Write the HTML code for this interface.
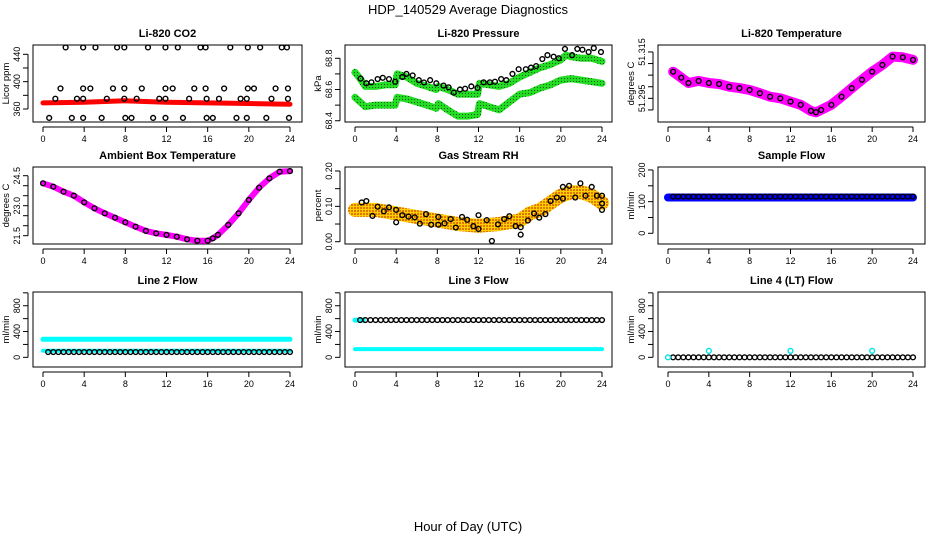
<!DOCTYPE html>
<html><head><meta charset="utf-8">
<style>
body{margin:0;background:#fff;}
svg{display:block;font-family:"Liberation Sans",Arial,sans-serif;}
.t{font-size:11px;font-weight:bold;text-anchor:middle}
.tl{font-size:9px;text-anchor:middle}
.yl{font-size:9.5px;text-anchor:middle}
</style></head>
<body>
<svg id="c" width="936" height="540" viewBox="0 0 936 540">
<defs>
<pattern id="pg" width="3" height="3" patternUnits="userSpaceOnUse"><rect width="3" height="3" fill="#22dd22"/><rect width="1" height="1" fill="#115511"/></pattern>
<pattern id="po" width="3" height="3" patternUnits="userSpaceOnUse"><rect width="3" height="3" fill="#ffd000"/><rect width="2" height="2" fill="#e07800"/></pattern>
</defs>
<text x="468" y="14" font-size="13" text-anchor="middle">HDP_140529  Average Diagnostics</text>
<text x="468" y="531" font-size="13" text-anchor="middle">Hour of Day (UTC)</text>
</svg>
<script>
// ---------- data ----------
const xTicks=[0,4,8,12,16,20,24];
// CO2
const co2H450=[2.2,3.9,5.1,7.2,7.9,10.2,11.9,13.1,15.3,15.8,18.2,19.9,21.1,23.2,23.7];
const co2H390=[1.7,3.9,4.6,6.8,7.9,9.6,11.9,12.6,14.7,15.8,17.6,19.9,20.5,22.6,23.8];
const co2H375=[1.2,3.3,3.9,6.2,7.9,9.1,11.3,11.9,14.2,15.9,17.1,19.2,19.8,22.2,23.8];
const co2H347=[0.6,2.8,3.9,5.7,8.0,8.6,10.7,11.9,13.6,15.9,16.5,18.8,19.8,21.7,23.9];
const co2BandH=[0,4,8,12,16,20,24];
const co2BandV=[369,370,372,370,369,368,367];
// Pressure
const presUpH=[0,0.5,1,2,3,3.9,4.1,5,6,7,7.9,8.1,9,10,11,11.9,12.1,13,14,15,16,17,18,19,20,20.5,21,22,23,24];
const presUpV=[68.71,68.67,68.62,68.62,68.63,68.63,68.70,68.68,68.64,68.62,68.60,68.62,68.60,68.57,68.57,68.57,68.64,68.63,68.62,68.64,68.68,68.71,68.74,68.76,68.79,68.82,68.81,68.80,68.80,68.78];
const presLoH=[0,1,2,3,3.9,4.1,5,6,7,7.9,8.1,9,10,11,11.9,12.1,13,14,15,16,17,18,19,20,21,22,23,24];
const presLoV=[68.55,68.49,68.50,68.50,68.50,68.55,68.54,68.52,68.50,68.48,68.51,68.47,68.43,68.43,68.44,68.51,68.49,68.47,68.52,68.57,68.58,68.61,68.63,68.66,68.67,68.66,68.65,68.64];
const presCH=[0.55,1.1,1.6,2.2,2.7,3.3,3.9,4.6,5.0,5.6,6.2,6.7,7.3,7.9,8.6,9.1,9.6,10.2,10.7,11.3,11.9,12.5,13.1,13.6,14.2,14.7,15.3,15.9,16.6,17.1,17.6,18.2,18.7,19.3,19.8,20.4,21.1,21.6,22.1,22.7,23.2,23.9];
const presCV=[68.67,68.64,68.646,68.667,68.675,68.667,68.65,68.68,68.70,68.69,68.66,68.645,68.66,68.64,68.625,68.614,68.58,68.60,68.605,68.62,68.61,68.646,68.646,68.65,68.667,68.66,68.70,68.73,68.73,68.74,68.75,68.795,68.82,68.81,68.80,68.86,68.82,68.86,68.855,68.84,68.865,68.84];
// Li-820 temperature
const tempH=[0.5,1.3,2,3,4,5,6,7,8,9,10,11,12,13,14,14.5,15,16,17,18,19,20,21,22,23,24];
const tempV=[51.3065,51.3039,51.3016,51.3025,51.3016,51.3012,51.3,51.2994,51.2986,51.2972,51.2957,51.295,51.2936,51.2922,51.2896,51.289,51.29,51.2922,51.2957,51.2994,51.3030,51.3065,51.3094,51.313,51.3127,51.3116];
// Ambient
const ambH=[0,1,2,3,4,5,6,7,8,9,10,11,12,13,14,15,16,16.5,17,18,19,20,21,22,23,24];
const ambV=[24.12,23.95,23.7,23.5,23.17,22.87,22.62,22.4,22.17,21.95,21.74,21.62,21.54,21.45,21.32,21.25,21.25,21.37,21.54,22.04,22.62,23.29,23.9,24.37,24.7,24.73];
// RH
const rhBandH=[0,2,4,6,8,10,12,14,16,17,18,19,20,21,22,23,24];
const rhBandV=[0.09,0.09,0.08,0.07,0.06,0.05,0.045,0.05,0.06,0.08,0.09,0.11,0.13,0.14,0.14,0.13,0.11];
const rhCH=[0.65,1.1,1.7,2.2,2.8,3.3,4.0,4.0,4.6,5.2,5.8,6.3,6.9,7.4,8.1,8.1,8.7,9.3,9.8,10.4,10.9,11.5,12.0,12.0,12.8,13.3,13.9,14.5,15.0,15.6,16.1,16.1,16.8,17.4,17.9,18.5,19.0,19.6,20.2,20.2,20.8,21.4,21.9,22.4,23.0,23.5,24.0,24.0,24.0];
const rhCV=[0.111,0.115,0.073,0.099,0.086,0.097,0.09,0.055,0.075,0.071,0.069,0.051,0.078,0.048,0.07,0.048,0.052,0.064,0.04,0.07,0.062,0.044,0.075,0.036,0.061,0.002,0.049,0.064,0.072,0.044,0.041,0.02,0.06,0.08,0.068,0.078,0.115,0.125,0.122,0.155,0.158,0.125,0.165,0.13,0.155,0.13,0.13,0.09,0.108];
// flows
const flowH=[0.5,1,1.5,2,2.5,3,3.5,4,4.5,5,5.5,6,6.5,7,7.5,8,8.5,9,9.5,10,10.5,11,11.5,12,12.5,13,13.5,14,14.5,15,15.5,16,16.5,17,17.5,18,18.5,19,19.5,20,20.5,21,21.5,22,22.5,23,23.5,24];
const sampleBandV=113, sampleCircV=116;
const line2UpV=279, line2LoV=102, line2CircV=82;
const line3CircV=578, line3BandV=128;
const line4CircV=0;
const line4CyanH=[0,4,12,20];
const line4CyanV=[0,100,100,100];

// ---------- layout ----------
const svg=document.getElementById('c');
const NS='http://www.w3.org/2000/svg';
function mk(tag,attrs,parent){const e=document.createElementNS(NS,tag);for(const k in attrs)e.setAttribute(k,attrs[k]);(parent||svg).appendChild(e);return e;}
const cols=[{l:33,r:302,x0:43,x24:290},{l:345,r:612,x0:355,x24:602},{l:658,r:925,x0:668,x24:913}];
const rows=[{t:45,b:122},{t:167,b:244},{t:292,b:367}];

function panel(ci,ri,title,ylab,dmin,dmax,ticks,labels,name){
  const c=cols[ci],r=rows[ri];
  const g=mk('g',{});
  
  
  const X=h=>c.x0+(c.x24-c.x0)*h/24;
  const Y=v=>r.b-(v-dmin)/(dmax-dmin)*(r.b-r.t);
  const box=mk('rect',{x:c.l,y:r.t,width:c.r-c.l,height:r.b-r.t,fill:'none',stroke:'#000','stroke-width':1},g);
  
  
  const tt=mk('text',{x:(c.l+c.r)/2,y:r.t-8,class:'t'},g);tt.textContent=title;
  
  
  const xa=mk('g',{},g);
  
  
  mk('line',{x1:X(0),x2:X(24),y1:r.b+5,y2:r.b+5,stroke:'#000'},xa);
  xTicks.forEach(h=>{mk('line',{x1:X(h),x2:X(h),y1:r.b+5,y2:r.b+10,stroke:'#000'},xa);
    const t=mk('text',{x:X(h),y:r.b+20,class:'tl'},xa);t.textContent=h;});
  const ya=mk('g',{},g);
  
  
  const ax=c.l-5;
  mk('line',{x1:ax,x2:ax,y1:Y(ticks[0]),y2:Y(ticks[ticks.length-1]),stroke:'#000'},ya);
  ticks.forEach(v=>mk('line',{x1:ax-5,x2:ax,y1:Y(v),y2:Y(v),stroke:'#000'},ya));
  labels.forEach(([v,s])=>{const t=mk('text',{x:0,y:0,class:'tl',transform:`translate(${ax-8},${Y(v)}) rotate(-90)`},ya);t.textContent=s;});
  const yt=mk('text',{x:0,y:0,class:'yl',transform:`translate(${c.l-24},${(r.t+r.b)/2}) rotate(-90)`},g);yt.textContent=ylab;
  
  
  return {g,X,Y};
}
function band(p,hs,vs,color,w,name){
  const pts=hs.map((h,i)=>p.X(h).toFixed(1)+','+p.Y(vs[i]).toFixed(1)).join(' ');
  const e=mk('polyline',{points:pts,fill:'none',stroke:color,'stroke-width':w,'stroke-linejoin':'round','stroke-linecap':'round'},p.g);
  
  
}
function circles(p,hs,vs,name,col,fill){
  hs.forEach((h,i)=>{
    const e=mk('circle',{cx:p.X(h),cy:p.Y(vs[i]),r:2.4,fill:fill||'none',stroke:col||'#000','stroke-width':1.4},p.g);
    
    
  });
}
const flowTicks=[0,200,400,600,800,1000], flowLabels=[[0,'0'],[400,'400'],[800,'800']];
const constArr=(v)=>flowH.map(()=>v);

let p=panel(0,0,'Li-820 CO2','Licor ppm',341,453.6,[360,380,400,420,440],[[360,'360'],[400,'400'],[440,'440']],'co2-panel');
band(p,co2BandH,co2BandV,'#ff0000',5,'co2-band');
circles(p,co2H450,co2H450.map(()=>450),'co2-point');
circles(p,co2H390,co2H390.map(()=>390),'co2-point');
circles(p,co2H375,co2H375.map(()=>375),'co2-point');
circles(p,co2H347,co2H347.map(()=>347),'co2-point');
p=panel(1,0,'Li-820 Pressure','kPa',68.392,68.885,[68.4,68.5,68.6,68.7,68.8],[[68.4,'68.4'],[68.6,'68.6'],[68.8,'68.8']],'pressure-panel');
band(p,presUpH,presUpV,'url(#pg)',7,'pressure-upper-band');
band(p,presLoH,presLoV,'url(#pg)',7,'pressure-lower-band');
circles(p,presCH,presCV,'pressure-point');
p=panel(2,0,'Li-820 Temperature','degrees C',51.2848,51.318,[51.29,51.295,51.3,51.305,51.31,51.315],[[51.295,'51.295'],[51.315,'51.315']],'li820-temp-panel');
band(p,tempH,tempV,'#ff00ff',10,'li820-temp-band');
circles(p,tempH,tempV,'li820-temp-point');
p=panel(0,1,'Ambient Box Temperature','degrees C',21.085,24.935,[21.5,22,22.5,23,23.5,24,24.5],[[21.5,'21.5'],[23,'23.0'],[24.5,'24.5']],'ambient-temp-panel');
band(p,ambH,ambV,'#ff00ff',6,'ambient-temp-band');
circles(p,ambH,ambV,'ambient-temp-point');
p=panel(1,1,'Gas Stream RH','percent',-0.0065,0.2113,[0,0.05,0.1,0.15,0.2],[[0,'0.00'],[0.1,'0.10'],[0.2,'0.20']],'rh-panel');
band(p,rhBandH,rhBandV,'url(#po)',14,'rh-band');
circles(p,rhCH,rhCV,'rh-point');
p=panel(2,1,'Sample Flow','ml/min',-33.8,209.4,[0,50,100,150,200],[[0,'0'],[100,'100'],[200,'200']],'sample-flow-panel');
band(p,[0,24],[sampleBandV,sampleBandV],'#0000ff',8,'sample-flow-band');
circles(p,flowH,constArr(sampleCircV),'sample-flow-point');
p=panel(0,2,'Line 2 Flow','ml/min',-150,1013,flowTicks,flowLabels,'line2-flow-panel');
band(p,[0,24],[line2UpV,line2UpV],'#00ffff',5,'line2-upper-band');
band(p,[0,24],[line2LoV,line2LoV],'#00ffff',4,'line2-lower-band');
circles(p,flowH,constArr(line2CircV),'line2-point');
p=panel(1,2,'Line 3 Flow','ml/min',-150,1013,flowTicks,flowLabels,'line3-flow-panel');
band(p,[0,24],[line3BandV,line3BandV],'#00ffff',4,'line3-band');
band(p,[0,0.8],[line3CircV,line3CircV],'#00ffff',5,'line3-upper-band');
circles(p,flowH,constArr(line3CircV),'line3-point');
p=panel(2,2,'Line 4 (LT) Flow','ml/min',-150,1013,flowTicks,flowLabels,'line4-flow-panel');
circles(p,flowH,constArr(line4CircV),'line4-point');
circles(p,line4CyanH,line4CyanV,'line4-cyan-point','#00e5e5');
</script>
</body></html>
